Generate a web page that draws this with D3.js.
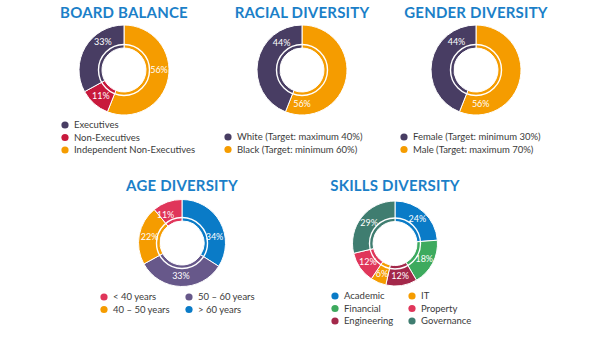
<!DOCTYPE html>
<html>
<head>
<meta charset="utf-8">
<script src="https://cdn.jsdelivr.net/npm/d3@7"></script>
<style>
    body { margin: 0; background: #fff; }
    svg { display: block; font-family: "Lato", "Open Sans", sans-serif; }
    .title { font-weight: 700; font-size: 15px; fill: #1b7fc8; letter-spacing: 0.2px; }
    .pct { font-size: 9px; fill: #fff; }
    .legend { font-size: 9.5px; fill: #3a3a3a; }
</style>
</head>
<body>
<div id="chart"></div>
<script>
// Board balance
const boardLabels = ["Independent Non-Executives", "Non-Executives", "Executives"];
const boardValues = [56, 11, 33];

// Racial diversity
const raceLabels = ["Black (Target: minimum 60%)", "White (Target: maximum 40%)"];
const raceValues = [56, 44];

// Gender diversity
const genderLabels = ["Male (Target: maximum 70%)", "Female (Target: minimum 30%)"];
const genderValues = [56, 44];

// Age diversity
const ageLabels = ["> 60 years", "50 – 60 years", "40 – 50 years", "< 40 years"];
const ageValues = [34, 33, 22, 11];

// Skills diversity
const skillLabels = ["Academic", "Financial", "Engineering", "IT", "Property", "Governance"];
const skillValues = [24, 18, 12, 6, 12, 29];

const W = 602, H = 338;

const svg = d3.select("#chart")
    .append("svg")
    .attr("width", W)
    .attr("height", H);

const pie = d3.pie().sort(null).value(d => d.value);

function drawDonut(opts) {
    const data = opts.labels.map((l, i) => ({ label: l, value: opts.values[i], color: opts.colors[i] }));

    const g = svg.append("g");

    g.append("text")
        .attr("class", "title")
        .attr("x", opts.cx)
        .attr("y", opts.titleY)
        .attr("text-anchor", "middle")
        .text(opts.title);

    const donut = g.append("g")
        .attr("transform", `translate(${opts.cx},${opts.cy})`);

    const arc = d3.arc().innerRadius(22).outerRadius(opts.r);
    const labelArc = d3.arc().innerRadius(opts.labelR).outerRadius(opts.labelR);

    const arcs = donut.selectAll(".slice")
        .data(pie(data))
        .enter()
        .append("g")
        .attr("class", "slice");

    arcs.append("path")
        .attr("d", arc)
        .attr("fill", d => d.data.color)
        .attr("stroke", "#fff")
        .attr("stroke-width", 1);

    // thin white ring inside the donut
    donut.append("circle")
        .attr("r", 25.5)
        .attr("fill", "none")
        .attr("stroke", "#fff")
        .attr("stroke-width", 1.4);

    // percentage labels: centroid by default, or a fixed angle (degrees) when given
    const labelPos = (d, i) => {
        const a = opts.labelAngles && opts.labelAngles[i] != null ? opts.labelAngles[i] * Math.PI / 180 : null;
        if (a === null) return labelArc.centroid(d);
        return [opts.labelR * Math.sin(a), -opts.labelR * Math.cos(a)];
    };

    arcs.append("text")
        .attr("class", "pct")
        .attr("transform", (d, i) => `translate(${labelPos(d, i)})`)
        .attr("dy", "0.35em")
        .attr("text-anchor", "middle")
        .text(d => d.data.value + "%");

    // legend
    const items = g.selectAll(".legend-item")
        .data(opts.legendOrder.map(i => data[i]))
        .enter()
        .append("g")
        .attr("class", "legend-item")
        .attr("transform", (d, i) => {
            const col = Math.floor(i / opts.rows);
            const row = i % opts.rows;
            return `translate(${opts.legendX + col * opts.colW},${opts.legendY + row * opts.rowH})`;
        });

    items.append("circle")
        .attr("r", 3.6)
        .attr("fill", d => d.color);

    items.append("text")
        .attr("class", "legend")
        .attr("x", 9)
        .attr("dy", "0.35em")
        .text(d => d.label);
}

drawDonut({
    title: "BOARD BALANCE",
    labels: boardLabels, values: boardValues,
    colors: ["#f59c00", "#c8193c", "#483d63"],
    cx: 124, cy: 70, r: 45, labelR: 35, titleY: 18,
    labelAngles: [90, null, 323],
    legendOrder: [2, 1, 0], rows: 3, colW: 0,
    legendX: 65, legendY: 125, rowH: 12.5
});

drawDonut({
    title: "RACIAL DIVERSITY",
    labels: raceLabels, values: raceValues,
    colors: ["#f59c00", "#483d63"],
    cx: 302, cy: 70, r: 45, labelR: 34, titleY: 18,
    labelAngles: [180, 323],
    legendOrder: [1, 0], rows: 2, colW: 0,
    legendX: 228, legendY: 137, rowH: 12.5
});

drawDonut({
    title: "GENDER DIVERSITY",
    labels: genderLabels, values: genderValues,
    colors: ["#f59c00", "#483d63"],
    cx: 476, cy: 70, r: 45, labelR: 34, titleY: 18,
    labelAngles: [172, 325],
    legendOrder: [1, 0], rows: 2, colW: 0,
    legendX: 404, legendY: 137, rowH: 12.5
});

drawDonut({
    title: "AGE DIVERSITY",
    labels: ageLabels, values: ageValues,
    colors: ["#0a7bc7", "#67588a", "#f59c00", "#e0365a"],
    cx: 182, cy: 243, r: 43.5, labelR: 33, titleY: 191,
    labelAngles: [80, null, null, 330],
    legendOrder: [3, 2, 1, 0], rows: 2, colW: 85,
    legendX: 104, legendY: 297, rowH: 12.5
});

drawDonut({
    title: "SKILLS DIVERSITY",
    labels: skillLabels, values: skillValues,
    colors: ["#0a7bc7", "#3daa5e", "#a3284a", "#f59c00", "#e0365a", "#3f7d70"],
    cx: 395, cy: 243.5, r: 42.5, labelR: 33, titleY: 191,
    legendOrder: [0, 1, 2, 3, 4, 5], rows: 3, colW: 77,
    legendX: 335, legendY: 296, rowH: 12.5
});
</script>
</body>
</html>
